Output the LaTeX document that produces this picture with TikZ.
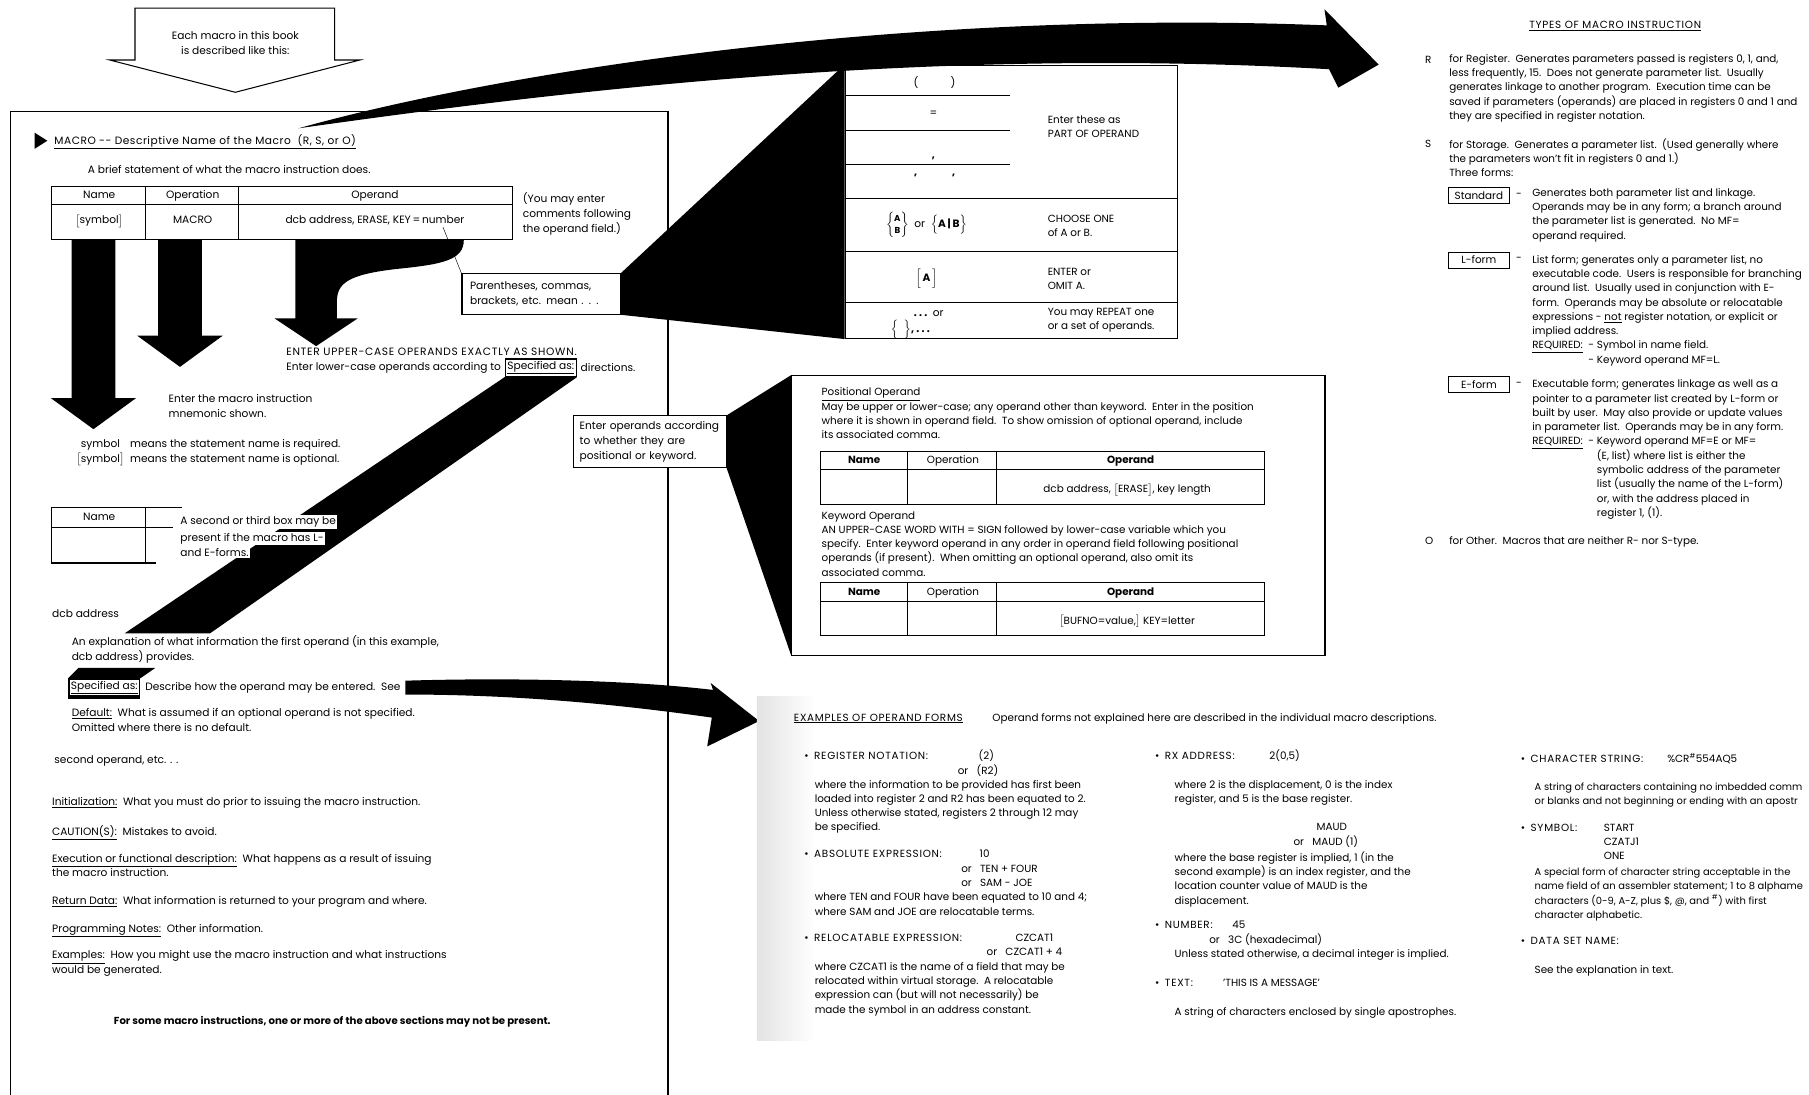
\documentclass[tikz,border=0pt]{standalone}
\usepackage{amsmath,amssymb}
\usepackage{fontspec}
\setmainfont{Poppins}
\usetikzlibrary{positioning,calc}
\newcommand{\caps}[1]{{\addfontfeature{LetterSpace=7}#1}}

\begin{document}
\begin{tikzpicture}[x=1pt, y=-1pt,
  every node/.style={font=\fontsize{9.2}{12.8}\selectfont, inner sep=0pt, anchor=base west},
  blk/.style={align=left, anchor=north west},
  sm/.style={font=\fontsize{9}{12.4}\selectfont},
  tight/.style={font=\fontsize{8.6}{12.4}\selectfont},
  frm/.style={line width=0.9pt},
  callout/.style={draw, fill=white, line width=0.9pt, align=left, anchor=north west, inner xsep=6pt, inner ysep=6pt},
  specbox/.style={draw, fill=white, line width=1.3pt, inner sep=1.8pt, anchor=west},
  formbox/.style={draw, line width=0.7pt, minimum width=53pt, minimum height=14pt, anchor=north west, sm},
  whitebg/.style={fill=white, inner sep=1.2pt}]
  \useasboundingbox (0,0) rectangle (1568,949);

  % page frame and the arrow that introduces it
  \draw[frm] (9,960) -- (9,97) -- (579,97) -- (579,960);
  \draw[frm] (117,7) -- (290,7) -- (290,52) -- (312,52) -- (204,80) -- (95,52) -- (117,52) -- cycle;
  \node[align=center, anchor=center] (intro) at (204,37) {Each macro in this book\\is described like this:};

  % heading
  \fill (30,115) -- (41,122) -- (30,129) -- cycle;
  \node (hdr) at (47,125) {\addfontfeature{LetterSpace=5}\underline{MACRO -{}- Descriptive Name of the Macro\ \ (R, S, or O)}};
  \node (brief) at (76,150) {A brief statement of what the macro instruction does.};

  % statement format
  \draw[frm] (45,162) rectangle (444,208);
  \draw[frm] (45,177) -- (444,177) (126,162) -- (126,208) (207,162) -- (207,208);
  \foreach \x/\t/\n in {86/Name/hn, 167/Operation/ho, 325/Operand/hp}
    \node[anchor=base] (\n) at (\x,172) {\t};
  \node[anchor=base] (fsym) at (86,194) {$\bigl[$symbol$\bigr]$};
  \node[anchor=base] (fmac) at (167,194) {MACRO};
  \node[anchor=base] (fopd) at (325,194) {dcb address, ERASE, KEY\,=\,number};
  \coordinate (keyeq) at (384,197);
  \node[blk] (cmt) at (453,167) {(You may enter\\comments following\\the operand field.)};

  % black arrows out of the fields
  \foreach \cx/\yb/\yt in {81/345/372, 156/291/318}
    \fill (\cx-19,208) -- (\cx+19,208) -- (\cx+19,\yb) -- (\cx+37,\yb) -- (\cx,\yt) -- (\cx-37,\yb) -- (\cx-19,\yb) -- cycle;
  \fill (256,208) -- (402,208) .. controls (402,225) and (385,229) .. (345,233) .. controls (300,238) and (292,246) .. (292,262) -- (292,276) -- (310,276) -- (274,300) -- (238,276) -- (256,276) -- cycle;

  \node[blk] (mnem) at (146,342) {Enter the macro instruction\\mnemonic shown.};
  \node[blk] (symreq) at (66,380) {\phantom{$\bigl[$}symbol\phantom{$\bigr]$}\ \ means the statement name is required.\\$\bigl[$symbol$\bigr]$\ \ means the statement name is optional.};

  \node (upper) at (248,308) {\caps{ENTER UPPER-CASE OPERANDS EXACTLY AS SHOWN.}};
  \node (lower) at (248,321) {Enter lower-case operands according to};
  \node[specbox, right=3pt of lower] (spec1) {\underline{Specified as:}};
  \node[right=3pt of spec1] (dirs) {directions.};
  \fill (spec1.south west) -- (spec1.south east) -- (182,549) -- (108,549) -- cycle;

  % second box
  \draw[frm] (158,440) -- (45,440) -- (45,488) -- (135,488) (126,440) -- (126,488) (45,457) -- (150,457);
  \node[anchor=base] (nm2) at (86,451) {Name};
  \foreach \y/\t/\n in {455/A second or third box may be/sb1, 469/present if the macro has L-/sb2, 482/and E-forms./sb3}
    \node[whitebg] (\n) at (155,\y) {\t};

  % operand description
  \node (dcb) at (45,535) {dcb address};
  \node[blk] (expl) at (62,551) {An explanation of what information the first operand (in this example,\\dcb address) provides.};
  \node[specbox] (spec2) at (59,596) {\underline{Specified as:}};
  \fill (spec2.north west) -- ++(9,-9) -- ($(spec2.north east)+(13,-9)$) -- (spec2.north east) -- cycle;
  \draw[line width=3pt] (spec2.south west) -- (spec2.south east);
  \node[right=4pt of spec2] (howto) {Describe how the operand may be entered.\ \ See};
  \coordinate (seetip) at (658,625);
  \fill ($(howto.east)+(4,-6)$) .. controls (450,587) and (550,590) .. (618,598) -- (616,592) -- (seetip) -- (613,647) -- (617,622) .. controls (540,611) and (450,602) .. ($(howto.east)+(4,6)$) -- cycle;

  \node[blk] (dflt) at (62,614) {\underline{Default:}\ \ What is assumed if an optional operand is not specified.\\Omitted where there is no default.};
  \node (secop) at (47,662) {second operand, etc. . .};
  \node (init) at (45,698) {\underline{Initialization:}\ \ What you must do prior to issuing the macro instruction.};
  \node (caut) at (45,724) {\underline{CAUTION(S):}\ \ Mistakes to avoid.};
  \node[blk] (exec) at (45,740) {\underline{Execution or functional description:}\ \ What happens as a result of issuing\\the macro instruction.};
  \node (retd) at (45,784) {\underline{Return Data:}\ \ What information is returned to your program and where.};
  \node (prog) at (45,808) {\underline{Programming Notes:}\ \ Other information.};
  \node[blk] (exmp) at (45,824) {\underline{Examples:}\ \ How you might use the macro instruction and what instructions\\would be generated.};
  \node[anchor=base, font=\fontsize{8.8}{12.8}\selectfont\bfseries] (some) at (288,888) {For some macro instructions, one or more of the above sections may not be present.};

  % callouts
  \node[callout, text width=123pt, inner xsep=7pt, inner ysep=7pt] (paren) at (400,237) {Parentheses, commas,\\brackets, etc. mean . . .};
  \draw[thin] (keyeq) -- (paren.north west);
  \node[callout, text width=122pt, inner xsep=5pt, inner ysep=5pt] (ops) at (497,360) {Enter operands according\\to whether they are\\positional or keyword.};

  % meaning of the symbols
  \node[draw, frm, minimum width=288pt, minimum height=237pt, anchor=north west] (symtab) at (732,56) {};
  \fill (paren.north east) -- (symtab.north west) -- (symtab.south west) -- (paren.south east) -- cycle;
  \foreach \y in {83,113,143} \draw[frm] (732,\y) -- (875,\y);
  \foreach \y in {172,218,262} \draw[frm] (732,\y) -- (1020,\y);
  \node[anchor=base] (par) at (810,75) {(\hspace{28pt})};
  \node[anchor=base] (eqs) at (809,101) {=};
  \node[anchor=base] (cma) at (809,137) {\textbf{,}};
  \node[anchor=base] (apo) at (810,157) {\textbf{'}\hspace{30pt}\textbf{'}};
  \node[anchor=base] (choose) at (803,197) {$\left\{\begin{array}{@{}c@{}}\text{\fontsize{7.5}{7.5}\selectfont\bfseries A}\\[-3pt]\text{\fontsize{7.5}{7.5}\selectfont\bfseries B}\end{array}\right\}$\ \ or\ \ $\Bigl\{$\textbf{A\,|\,B}$\Bigr\}$};
  \node[anchor=base] (opt) at (803,244) {$\Bigl[$\,\textbf{A}\,$\Bigr]$};
  \node[anchor=base] (rep1) at (805,274) {\textbf{.\ .\ .}\ \ or};
  \node[anchor=base] (rep2) at (789,288) {$\Bigl\{\ \ \Bigr\}$\textbf{,\ .\ .\ .}};
  \node[blk, sm] (part) at (908,100) {Enter these as\\PART OF OPERAND};
  \node[blk, sm] (one) at (908,186) {CHOOSE ONE\\of A or B.};
  \node[blk, sm] (omit) at (908,232) {ENTER or\\OMIT A.};
  \node[blk, sm] (rpt) at (908,267) {You may REPEAT one\\or a set of operands.};

  % positional and keyword operands
  \node[draw, frm, minimum width=462pt, minimum height=243pt, anchor=north west] (posbox) at (686,325) {};
  \fill (ops.north east) -- (posbox.north west) -- (posbox.south west) -- (ops.south east) -- cycle;
  \node[blk, sm] (pos) at (712,336) {\underline{Positional Operand}\\May be upper or lower-case; any operand other than keyword.\ \ Enter in the position\\where it is shown in operand field.\ \ To show omission of optional operand, include\\its associated comma.};
  \node[blk, sm] (kwd) at (712,443) {Keyword Operand\\AN UPPER-CASE WORD WITH = SIGN followed by lower-case variable which you\\specify.\ \ Enter keyword operand in any order in operand field following positional\\operands (if present).\ \ When omitting an optional operand, also omit its\\associated comma.};
  \foreach \ty/\r/\t in {391/a/{dcb address, $\bigl[$ERASE$\bigr]$, key length}, 505/b/{$\bigl[$BUFNO=value,$\bigr]$ KEY=letter}} {
    \draw[frm] (711,\ty) rectangle (1096,\ty+46);
    \draw[frm] (711,\ty+16) -- (1096,\ty+16) (787,\ty) -- (787,\ty+46) (864,\ty) -- (864,\ty+46);
    \node[anchor=base, sm] (nm\r) at (749,\ty+11) {\textbf{Name}};
    \node[anchor=base, sm] (op\r) at (826,\ty+11) {Operation};
    \node[anchor=base, sm] (od\r) at (980,\ty+11) {\textbf{Operand}};
    \node[anchor=base, sm] (row\r) at (977,\ty+36) {\t};
  }

  % big arrow to the macro types
  \coordinate (bigtip) at (1195,56);
  \fill ($(hdr.north east)+(-50,-5)$) .. controls (450,58) and (800,8) .. (1150,22) -- (1148,8) -- (bigtip) -- (1160,76) -- (1152,60) .. controls (800,40) and (480,80) .. ($(hdr.north east)+(-50,-5)$) -- cycle;

  % types of macro instruction
  \node[anchor=base, sm] (types) at (1400,25) {\caps{\underline{TYPES OF MACRO INSTRUCTION}}};
  \foreach \y/\l in {55/R, 128/S, 472/O} \node[sm] (l\l) at (1235,\y) {\l};
  \node[blk, sm] (rtxt) at (1256,47) {for Register.\ \ Generates parameters passed is registers 0, 1, and,\\less frequently, 15.\ \ Does not generate parameter list.\ \ Usually\\generates linkage to another program.\ \ Execution time can be\\saved if parameters (operands) are placed in registers 0 and 1 and\\they are specified in register notation.};
  \node[blk, sm] (stxt) at (1256,120) {for Storage.\ \ Generates a parameter list.\ \ (Used generally where\\the parameters won't fit in registers 0 and 1.)\\Three forms:};
  \foreach \y/\f/\n in {162/Standard/fs, 218/L-form/fl, 326/E-form/fe} {
    \node[formbox] (\n) at (1255,\y) {\f};
    \node[sm, anchor=west] (d\n) at (1314,\y+7) {-};
  }
  \node[blk, sm] (std) at (1328,163) {Generates both parameter list and linkage.\\Operands may be in any form; a branch around\\the parameter list is generated.\ \ No MF=\\operand required.};
  \node[blk, sm] (lfm) at (1328,221) {List form; generates only a parameter list, no\\executable code.\ \ Users is responsible for branching\\around list.\ \ Usually used in conjunction with E-\\form.\ \ Operands may be absolute or relocatable\\expressions - \underline{not} register notation, or explicit or\\implied address.\\\underline{REQUIRED:}\ \ - Symbol in name field.\\\phantom{REQUIRED:\ \ }- Keyword operand MF=L.};
  \node[blk, sm] (efm) at (1328,329) {Executable form; generates linkage as well as a\\pointer to a parameter list created by L-form or\\built by user.\ \ May also provide or update values\\in parameter list.\ \ Operands may be in any form.\\\underline{REQUIRED:}\ \ - Keyword operand MF=E or MF=\\\phantom{REQUIRED:\ \ - }(E, list) where list is either the\\\phantom{REQUIRED:\ \ - }symbolic address of the parameter\\\phantom{REQUIRED:\ \ - }list (usually the name of the L-form)\\\phantom{REQUIRED:\ \ - }or, with the address placed in\\\phantom{REQUIRED:\ \ - }register 1, (1).};
  \node[sm] (otxt) at (1256,472) {for Other.\ \ Macros that are neither R- nor S-type.};

  % examples of operand forms
  \shade[left color=gray!22, right color=white] (656,604) rectangle (706,902);
  \node[sm] (exh) at (688,625) {\caps{\underline{EXAMPLES OF OPERAND FORMS}}};
  \node[sm] (exn) at (860,625) {Operand forms not explained here are described in the individual macro descriptions.};
  \node[sm] (reg) at (697,658) {\textbullet\ \ \caps{REGISTER NOTATION:}};
  \node[sm] (reg1) at (848,658) {(2)};
  \node[sm] (reg2) at (830,671) {or\ \ \ (R2)};
  \node[blk, sm] (regt) at (706,676) {where the information to be provided has first been\\loaded into register 2 and R2 has been equated to 2.\\Unless otherwise stated, registers 2 through 12 may\\be specified.};
  \node[sm] (abs) at (697,743) {\textbullet\ \ \caps{ABSOLUTE EXPRESSION:}};
  \node[sm] (abs1) at (849,743) {10};
  \node[sm] (abs2) at (833,756) {or\ \ \ TEN + FOUR};
  \node[sm] (abs3) at (833,768) {or\ \ \ SAM - JOE};
  \node[blk, sm] (abst) at (706,774) {where TEN and FOUR have been equated to 10 and 4;\\where SAM and JOE are relocatable terms.};
  \node[sm] (rel) at (697,816) {\textbullet\ \ \caps{RELOCATABLE EXPRESSION:}};
  \node[sm] (rel1) at (880,816) {CZCAT1};
  \node[sm] (rel2) at (855,828) {or\ \ \ CZCAT1 + 4};
  \node[blk, sm] (relt) at (706,834) {where CZCAT1 is the name of a field that may be\\relocated within virtual storage.\ \ A relocatable\\expression can (but will not necessarily) be\\made the symbol in an address constant.};

  \node[sm] (rx) at (1001,658) {\textbullet\ \ \caps{RX ADDRESS:}};
  \node[sm] (rx1) at (1100,658) {2(0,5)};
  \node[blk, sm] (rxt) at (1018,676) {where 2 is the displacement, 0 is the index\\register, and 5 is the base register.};
  \node[sm] (maud1) at (1141,720) {MAUD};
  \node[sm] (maud2) at (1121,733) {or\ \ \ MAUD (1)};
  \node[blk, sm] (maudt) at (1018,738) {where the base register is implied, 1 (in the\\second example) is an index register, and the\\location counter value of MAUD is the\\displacement.};
  \node[sm] (num) at (1001,805) {\textbullet\ \ \caps{NUMBER:}};
  \node[sm] (num1) at (1068,805) {45};
  \node[sm] (num2) at (1048,818) {or\ \ \ 3C (hexadecimal)};
  \node[sm] (numt) at (1018,830) {Unless stated otherwise, a decimal integer is implied.};
  \node[sm] (txt) at (1001,855) {\textbullet\ \ \caps{TEXT:}};
  \node[sm] (txt1) at (1060,855) {'THIS IS A MESSAGE'};
  \node[sm] (txtt) at (1018,880) {A string of characters enclosed by single apostrophes.};

  % right edge of the page cuts these lines as in the print
  \node[sm] (chs) at (1318,661) {\textbullet\ \ \caps{CHARACTER STRING:}};
  \node[sm] (chs1) at (1445,661) {\%CR\textsuperscript{\#}554AQ5};
  \node[blk, tight] (chst) at (1330,678) {A string of characters containing no imbedded comm\\or blanks and not beginning or ending with an apostr};
  \node[sm] (sym) at (1318,721) {\textbullet\ \ \caps{SYMBOL:}};
  \node[blk, sm] (symv) at (1390,714) {START\\CZATJ1\\ONE};
  \node[blk, tight] (symt) at (1330,752) {A special form of character string acceptable in the\\name field of an assembler statement; 1 to 8 alphame\\characters (0-9, A-Z, plus \$, @, and \textsuperscript{\#}) with first\\character alphabetic.};
  \node[sm] (dsn) at (1318,819) {\textbullet\ \ \caps{DATA SET NAME:}};
  \node[sm] (dsnt) at (1330,844) {See the explanation in text.};
\end{tikzpicture}
\end{document}
